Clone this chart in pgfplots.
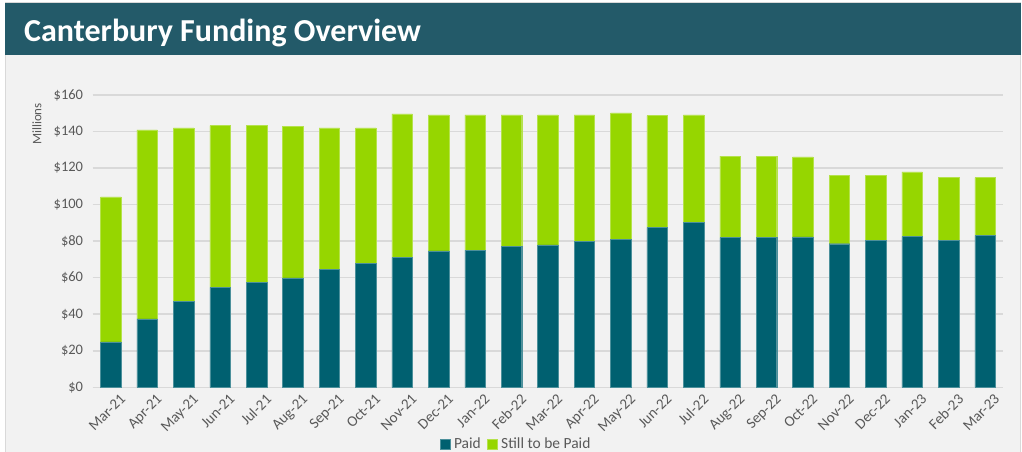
\documentclass[border=0pt]{standalone}
\usepackage{pgfplots}
\pgfplotsset{compat=1.18}
\usepackage{pgfplotstable}
\usepackage{fontspec}
\setmainfont{Carlito}
\definecolor{titlebar}{RGB}{35,90,105}
\definecolor{panel}{RGB}{242,242,242}
\definecolor{edge}{RGB}{217,217,217}
\definecolor{paid}{RGB}{0,96,112}
\definecolor{still}{RGB}{150,214,0}
\definecolor{labelgray}{RGB}{89,89,89}

% month index, paid, still to be paid (millions)
\pgfplotstableread{
x paid still
0 24.8 79.4
1 37.5 103.4
2 47.0 95.0
3 54.7 88.5
4 57.6 85.6
5 59.9 83.1
6 64.7 77.3
7 67.8 74.2
8 71.0 78.6
9 74.7 74.4
10 75.0 74.1
11 77.0 72.1
12 77.9 71.2
13 79.7 69.4
14 81.0 69.2
15 87.4 61.3
16 90.1 59.0
17 81.9 44.6
18 81.9 44.4
19 82.3 43.8
20 78.6 37.5
21 80.3 35.8
22 82.5 35.4
23 80.3 34.5
24 83.0 31.8
}\funding

\begin{document}
\begin{tikzpicture}[x=1pt,y=1pt]
\useasboundingbox (0,0) rectangle (1022,452);
\fill[white] (0,0) rectangle (1022,452);
\draw[edge, fill=panel, line width=1pt] (5.5,-2) rectangle (1020,449.5);
\fill[titlebar] (5,397) rectangle (1021,449);
\node[anchor=base west, text=white, font=\fontsize{32}{36}\selectfont\bfseries, inner sep=0pt]
  at (24,410) {Canterbury Funding Overview};
\node[rotate=90, text=labelgray, font=\fontsize{13}{15}\selectfont] at (37,328) {Millions};

\begin{axis}[
  at={(92.6pt,64.7pt)}, anchor=south west,
  scale only axis, width=910.6pt, height=292.3pt,
  ybar stacked, bar width=20.5pt,
  xmin=-0.5, xmax=24.5, ymin=0, ymax=160,
  xtick=data,
  xticklabels={Mar-21,Apr-21,May-21,Jun-21,Jul-21,Aug-21,Sep-21,Oct-21,Nov-21,Dec-21,Jan-22,Feb-22,Mar-22,Apr-22,May-22,Jun-22,Jul-22,Aug-22,Sep-22,Oct-22,Nov-22,Dec-22,Jan-23,Feb-23,Mar-23},
  ytick={0,20,...,160},
  yticklabels={\$0,\$20,\$40,\$60,\$80,\$100,\$120,\$140,\$160},
  major tick length=0pt,
  axis line style={draw=none},
  ymajorgrids, grid style={edge, line width=1.5pt},
  tick label style={text=labelgray, font=\fontsize{14.5}{16}\selectfont},
  xticklabel style={rotate=45, anchor=north east, inner sep=1pt, yshift=-9pt, xshift=3pt, font=\fontsize{15}{17}\selectfont},
  yticklabel style={xshift=-6pt},
  legend columns=2,
  legend style={at={(0.465,-0.194)}, anchor=center, draw=none, fill=none,
    font=\fontsize{15.5}{17}\selectfont, text=labelgray,
    /tikz/every odd column/.append style={column sep=2pt},
    /tikz/every even column/.append style={column sep=4pt}},
  legend image code/.code={\fill[#1] (0pt,-5pt) rectangle (10pt,5pt);},
]
\addplot[fill=paid, draw=paid!70!white, line width=0.4pt] table[x=x, y=paid] {\funding};
\addplot[fill=still, draw=still!70!white, line width=0.4pt] table[x=x, y=still] {\funding};
\legend{Paid, Still to be Paid}
\end{axis}
\end{tikzpicture}
\end{document}
